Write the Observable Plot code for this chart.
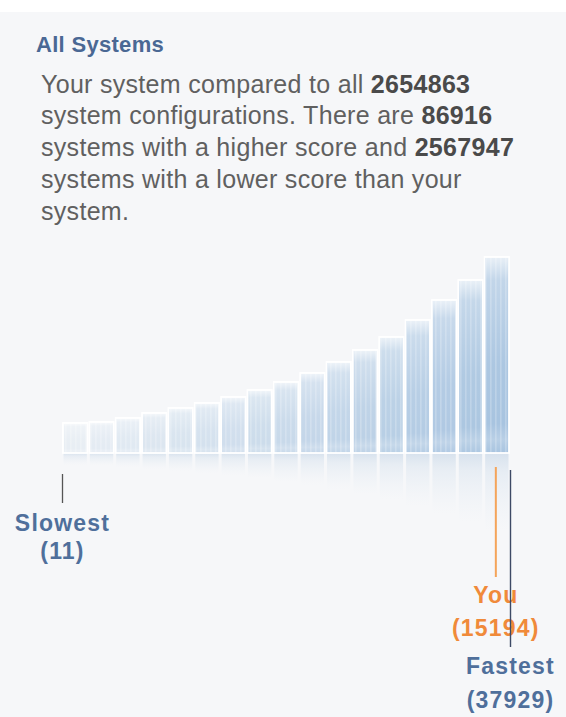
<!DOCTYPE html>
<html>
<head>
<meta charset="utf-8">
<script src="https://cdn.jsdelivr.net/npm/d3@7"></script>
<script src="https://cdn.jsdelivr.net/npm/@observablehq/plot@0.6"></script>
<style>
  html, body { margin: 0; padding: 0; background: #ffffff; width: 566px; height: 717px; overflow: hidden; }
  #panel { position: absolute; left: 0; top: 12px; width: 566px; height: 705px; background: #f6f7f9; }
  #title { position: absolute; left: 36px; top: 32px; font: bold 22px/26px "Liberation Sans", Arial, sans-serif; color: #4a6894; letter-spacing: 0.3px; white-space: nowrap; }
  #desc { position: absolute; left: 41px; top: 68.5px; font: 25px/31.75px "Liberation Sans", Arial, sans-serif; color: #606060; letter-spacing: 0.3px; white-space: nowrap; }
  #desc b { color: #4a4a4a; }
  #chart { position: absolute; left: 0; top: 240px; }
  #chart svg text { letter-spacing: 1.2px; }
  g[aria-label="glow"] { filter: blur(12px); }
</style>
</head>
<body>
<svg width="0" height="0" style="position:absolute">
  <defs>
    <linearGradient id="shine" x1="0" y1="0" x2="0" y2="1">
      <stop offset="0" stop-color="#ffffff" stop-opacity="0.75"/>
      <stop offset="0.12" stop-color="#ffffff" stop-opacity="0.3"/>
      <stop offset="0.55" stop-color="#ffffff" stop-opacity="0.05"/>
      <stop offset="0.85" stop-color="#ffffff" stop-opacity="0"/>
      <stop offset="0.93" stop-color="#ffffff" stop-opacity="0.2"/>
      <stop offset="1" stop-color="#ffffff" stop-opacity="0"/>
    </linearGradient>
    <linearGradient id="refl" x1="0" y1="0" x2="0" y2="1">
      <stop offset="0" stop-color="#cfdcea" stop-opacity="0.8"/>
      <stop offset="0.1" stop-color="#d8e3ee" stop-opacity="0.5"/>
      <stop offset="0.4" stop-color="#e6edf4" stop-opacity="0"/>
    </linearGradient>
    <pattern id="stripes" width="5" height="10" patternUnits="userSpaceOnUse">
      <rect x="0" y="0" width="1.6" height="10" fill="#ffffff" fill-opacity="0.22"/>
    </pattern>
  </defs>
</svg>
<div id="panel"></div>
<div id="title">All Systems</div>
<div id="desc"></div>
<div id="chart"></div>
<script>
// ---- data ----
const totalSystems = 2654863;
const higherCount = 86916;
const lowerCount = 2567947;
const binHeights = [30, 31, 35, 40, 45, 50, 56, 63, 71, 80, 91, 103, 116, 133, 153, 173, 196];
const markerNames = ["Slowest", "You", "Fastest"];
const markerScores = [11, 15194, 37929];
const markerRank = [0, lowerCount / totalSystems, 1];

document.getElementById("desc").innerHTML =
  `Your system compared to all <b>${totalSystems}</b><br>` +
  `system configurations. There are <b>${higherCount}</b><br>` +
  `systems with a higher score and <b>${lowerCount}</b><br>` +
  `systems with a lower score than your<br>` +
  `system.`;

const n = binHeights.length;
const bins = binHeights.map((v, i) => ({i, x1: i / n, x2: (i + 1) / n, xm: (i + 0.5) / n, v}));
const markers = markerNames.map((name, k) => ({name, score: markerScores[k], r: markerRank[k]}));

const font = "Liberation Sans, Arial, sans-serif";
const blue = "#4f6f9b";
const orange = "#f08a3a";

const [slow, you, fast] = markers;

const chart = Plot.plot({
  width: 566,
  height: 477,
  marginLeft: 62,
  marginRight: 56,
  marginTop: 13,
  marginBottom: 264,
  x: {domain: [0, 1], axis: null},
  y: {domain: [0, 200], axis: null},
  color: {type: "linear", domain: [0, n - 1], range: ["#e8eef4", "#a8c4e0"]},
  style: {background: "transparent", overflow: "visible"},
  marks: [
    Plot.line(bins, {x: "xm", y: "v", curve: "natural", stroke: "#ffffff", strokeWidth: 34, ariaLabel: "glow"}),
    Plot.rectY(bins, {x1: "x1", x2: "x2", y1: 0, y2: d => -d.v, insetLeft: 1.5, insetRight: 1.5, fill: "url(#refl)"}),
    Plot.rectY(bins, {x1: "x1", x2: "x2", y1: 0, y2: "v", insetLeft: 1, insetRight: 1, fill: "i", stroke: "#ffffff", strokeWidth: 1.8}),
    Plot.rectY(bins, {x1: "x1", x2: "x2", y1: 0, y2: "v", insetLeft: 2, insetRight: 2, fill: "url(#stripes)"}),
    Plot.rectY(bins, {x1: "x1", x2: "x2", y1: 0, y2: "v", insetLeft: 1.8, insetRight: 1.8, fill: "url(#shine)"}),
    // Slowest
    Plot.ruleX([slow], {x: "r", y1: -21, y2: -50, stroke: "#555", strokeWidth: 1.3}),
    Plot.text([slow], {x: "r", y: 0, dy: 77, text: "name", lineAnchor: "bottom", fill: blue, fontSize: 23, fontWeight: "bold", fontFamily: font}),
    Plot.text([slow], {x: "r", y: 0, dy: 105, text: d => `(${d.score})`, lineAnchor: "bottom", fill: blue, fontSize: 23, fontWeight: "bold", fontFamily: font}),
    // You
    Plot.ruleX([you], {x: "r", y1: -14, y2: -124, stroke: "#f4a45a", strokeWidth: 2}),
    Plot.text([you], {x: "r", y: 0, dy: 149, text: "name", lineAnchor: "bottom", fill: orange, fontSize: 23, fontWeight: "bold", fontFamily: font}),
    Plot.text([you], {x: "r", y: 0, dy: 182, text: d => `(${d.score})`, lineAnchor: "bottom", fill: orange, fontSize: 23, fontWeight: "bold", fontFamily: font}),
    // Fastest
    Plot.ruleX([fast], {x: "r", y1: -17, y2: -194, stroke: "#3d4a66", strokeWidth: 1.4}),
    Plot.text([fast], {x: "r", y: 0, dy: 220, text: "name", lineAnchor: "bottom", fill: blue, fontSize: 23, fontWeight: "bold", fontFamily: font}),
    Plot.text([fast], {x: "r", y: 0, dy: 254, text: d => `(${d.score})`, lineAnchor: "bottom", fill: blue, fontSize: 23, fontWeight: "bold", fontFamily: font})
  ]
});
document.getElementById("chart").appendChild(chart);
</script>
</body>
</html>
